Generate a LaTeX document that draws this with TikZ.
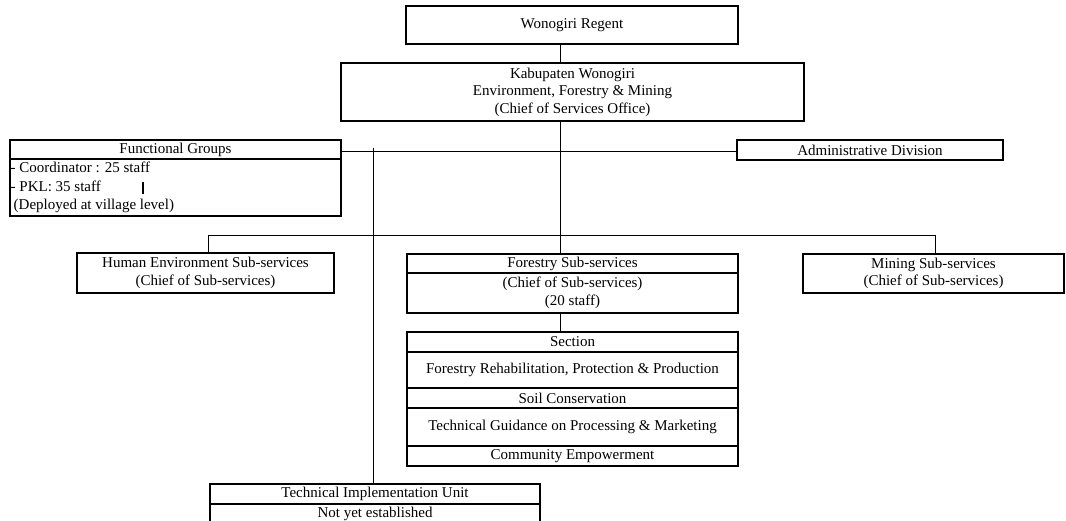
\documentclass[tikz,border=0pt]{standalone}
\usepackage{fontspec}
\setmainfont{Liberation Serif}
\begin{document}
\begin{tikzpicture}[x=1pt,y=-1pt,
  box/.style={draw, line width=1.9pt, inner sep=0pt, align=center,
    font=\fontsize{15}{17.5}\selectfont},
  conn/.style={line width=0.9pt},
  txt/.style={inner sep=0pt, font=\fontsize{15}{18.5}\selectfont}]
\useasboundingbox[fill=white] (0,0) rectangle (1066,521);
% top
\node[box, minimum width=332pt, minimum height=38pt] (reg) at (572,25) {Wonogiri Regent};
\node[box, minimum width=463pt, minimum height=58pt] (kab) at (572.5,92)
  {Kabupaten Wonogiri\\Environment, Forestry \& Mining\\(Chief of Services Office)};
% functional groups
\node[box, minimum width=331pt, minimum height=19pt] (fgh) at (175.5,149.5) {Functional Groups};
\node[box, minimum width=331pt, minimum height=57pt] (fgb) at (175.5,187.5) {};
\node[txt, anchor=west, align=left] (fgt) at (10.5,187.5)
  {- Coordinator : 25 staff\\- PKL: 35 staff\\\hspace{3pt}(Deployed at village level)};
\draw[line width=1.8pt] (143,182) -- (143,194);
% administrative
\node[box, minimum width=266pt, minimum height=20pt] (adm) at (870,150) {Administrative Division};
% sub-services
\node[box, minimum width=257pt, minimum height=40pt] (hum) at (205.5,273)
  {Human Environment Sub-services\\(Chief of Sub-services)};
\node[box, minimum width=331pt, minimum height=19pt] (fh) at (572.5,263.5) {Forestry Sub-services};
\node[box, minimum width=331pt, minimum height=40pt, font=\fontsize{15}{18.5}\selectfont] (fb) at (572.5,293)
  {(Chief of Sub-services)\\(20 staff)};
\node[box, minimum width=261pt, minimum height=39pt] (min) at (933.5,273.5)
  {Mining Sub-services\\(Chief of Sub-services)};
% sections
\node[box, minimum width=331pt, minimum height=20pt] (sec) at (572.5,342) {Section};
\node[box, minimum width=331pt, minimum height=36pt] (s1) at (572.5,370) {Forestry Rehabilitation, Protection \& Production};
\node[box, minimum width=331pt, minimum height=20pt] (s2) at (572.5,398) {Soil Conservation};
\node[box, minimum width=331pt, minimum height=38pt] (s3) at (572.5,427) {Technical Guidance on Processing \& Marketing};
\node[box, minimum width=331pt, minimum height=20pt] (s4) at (572.5,456) {Community Empowerment};
% technical implementation unit
\node[box, minimum width=330pt, minimum height=20pt] (tiuh) at (375,494) {Technical Implementation Unit};
\node[box, minimum width=330pt, minimum height=26pt] (tiub) at (375,517) {};
\node[txt] (tiut) at (375,513.5) {Not yet established};
% connector coordinates
\coordinate (trunk) at (560,0);
\coordinate (busL) at (208,235);
\coordinate (busR) at (935,235);
\coordinate (hline) at (0,151);
\coordinate (tiuTop) at (373,148);
% connectors
\draw[conn] (reg.south -| trunk) -- (kab.north -| trunk);
\draw[conn] (kab.south -| trunk) -- (fh.north -| trunk);
\draw[conn] (hum.north -| busL) -- (busL) -- (busR) -- (min.north -| busR);
\draw[conn] (fgh.east |- hline) -- (adm.west |- hline);
\draw[conn] (tiuTop) -- (tiuh.north -| tiuTop);
\draw[conn] (fb.south -| trunk) -- (sec.north -| trunk);
\end{tikzpicture}
\end{document}
